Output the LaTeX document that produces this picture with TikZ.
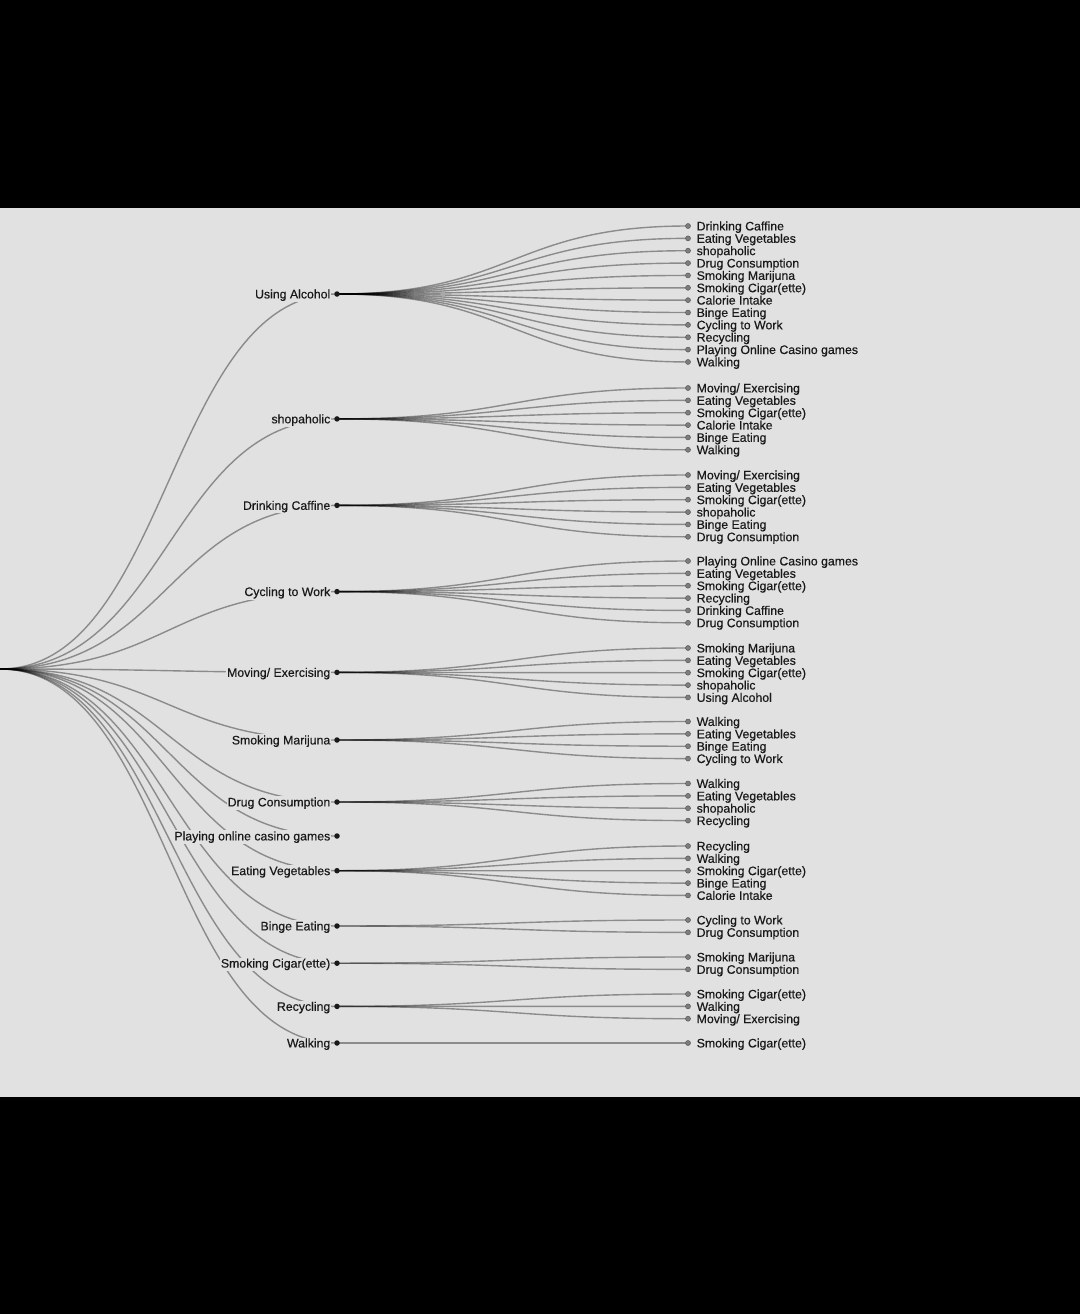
\documentclass[tikz,border=0pt]{standalone}
\usepackage{fontspec}
\setmainfont{Liberation Sans}
\newfontfamily\lblfam{Liberation Sans}[FakeBold=0.4]
\pgfdeclarelayer{back}
\pgfdeclarelayer{bg}
\pgfsetlayers{back,bg,main}
\definecolor{panel}{RGB}{225,225,225}
\definecolor{dotdark}{RGB}{25,25,25}
\definecolor{leafgray}{RGB}{125,125,125}
\newcommand{\lblfont}{\lblfam\fontsize{12.3}{14}\selectfont}
\newcommand{\branch}[5]{%
  \node[l1dot] (#1) at (337,#3) {};
  \node[l1label] (#1-t) at (331.5,{#3+4.4}) {#2};
  \begin{pgfonlayer}{bg}\draw[midlink] (root) to (#1.center);\end{pgfonlayer}
  \foreach \lf [count=\k] in {#5} {
    \pgfmathsetmacro\ly{#4+(\k-1)*12.36}
    \node[leafdot] (#1-\k) at (688,\ly) {};
    \node[leaflabel] (#1-\k-t) at (695.5,{\ly+4.4}) {\lf};
    \begin{pgfonlayer}{bg}\draw[leaflink] (#1.center) to (#1-\k.center);\end{pgfonlayer}
  }%
}
\begin{document}
\begin{tikzpicture}[x=1pt,y=-1pt,
  link/.style={draw=black, draw opacity=0.38, line width=1.4pt},
  midlink/.style={link, out=0, in=180, out distance=168.5pt, in distance=168.5pt},
  leaflink/.style={link, out=0, in=180, out distance=175.5pt, in distance=175.5pt},
  l1dot/.style={circle, fill=dotdark, inner sep=0pt, minimum size=5.5pt},
  leafdot/.style={circle, fill=leafgray, draw=black!65, line width=0.5pt, inner sep=0pt, minimum size=5pt},
  l1label/.style={anchor=base east, fill=panel, inner sep=1pt, font=\lblfont, text=black!90},
  leaflabel/.style={anchor=base west, inner sep=1pt, font=\lblfont, text=black!90},
]
\begin{pgfonlayer}{back}
\fill[black] (0,0) rectangle (1080,1314);
\fill[panel] (0,208) rectangle (1080,1097);
\end{pgfonlayer}
\useasboundingbox (0,0) rectangle (1080,1314);
\coordinate (root) at (0,669);

\branch{ua}{Using Alcohol}{294}{226}{Drinking Caffine,Eating Vegetables,shopaholic,Drug Consumption,Smoking Marijuna,Smoking Cigar(ette),Calorie Intake,Binge Eating,Cycling to Work,Recycling,Playing Online Casino games,Walking}
\branch{sh}{shopaholic}{418.9}{388}{Moving/ Exercising,Eating Vegetables,Smoking Cigar(ette),Calorie Intake,Binge Eating,Walking}
\branch{dc}{Drinking Caffine}{505.4}{475}{Moving/ Exercising,Eating Vegetables,Smoking Cigar(ette),shopaholic,Binge Eating,Drug Consumption}
\branch{cw}{Cycling to Work}{591.6}{561}{Playing Online Casino games,Eating Vegetables,Smoking Cigar(ette),Recycling,Drinking Caffine,Drug Consumption}
\branch{me}{Moving/ Exercising}{672.4}{648}{Smoking Marijuna,Eating Vegetables,Smoking Cigar(ette),shopaholic,Using Alcohol}
\branch{sm}{Smoking Marijuna}{740}{721.5}{Walking,Eating Vegetables,Binge Eating,Cycling to Work}
\branch{dg}{Drug Consumption}{802}{783.5}{Walking,Eating Vegetables,shopaholic,Recycling}
\node[l1dot] (pc) at (337,836) {};
\node[l1label] (pc-t) at (331.5,840.4) {Playing online casino games};
\begin{pgfonlayer}{bg}\draw[midlink] (root) to (pc.center);\end{pgfonlayer}
\branch{ev}{Eating Vegetables}{870.7}{846}{Recycling,Walking,Smoking Cigar(ette),Binge Eating,Calorie Intake}
\branch{be}{Binge Eating}{926}{920}{Cycling to Work,Drug Consumption}
\branch{sc}{Smoking Cigar(ette)}{963.2}{957}{Smoking Marijuna,Drug Consumption}
\branch{rc}{Recycling}{1006.4}{994}{Smoking Cigar(ette),Walking,Moving/ Exercising}
\branch{wk}{Walking}{1043}{1043}{Smoking Cigar(ette)}
\end{tikzpicture}
\end{document}
